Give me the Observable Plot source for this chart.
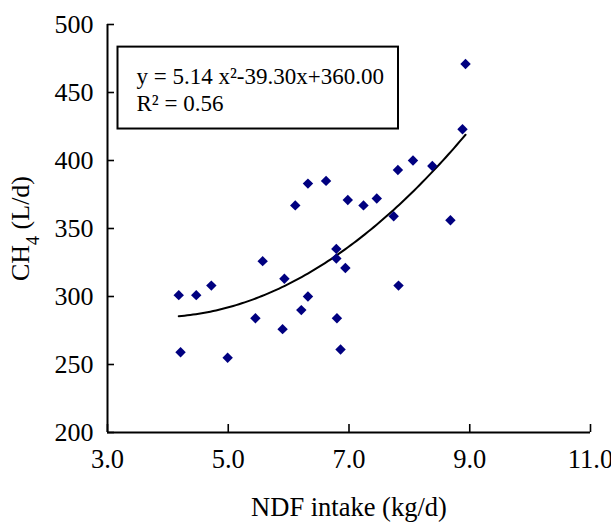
<!DOCTYPE html>
<html>
<head>
<meta charset="utf-8">
<script src="https://cdn.jsdelivr.net/npm/d3@7"></script>
<script src="https://cdn.jsdelivr.net/npm/@observablehq/plot@0.6"></script>
<style>
  html, body { margin: 0; padding: 0; background: #fff; }
  #chart { width: 611px; height: 525px; }
</style>
</head>
<body>
<div id="chart"></div>
<script>
// NDF intake (kg/d)
const ndfIntake = [4.18, 4.21, 4.47, 4.72, 4.99, 5.45, 5.57, 5.90, 5.93, 6.11,
                   6.21, 6.32, 6.32, 6.62, 6.79, 6.79, 6.80, 6.86, 6.94, 6.98,
                   7.24, 7.46, 7.74, 7.81, 7.82, 8.06, 8.38, 8.68, 8.88, 8.93];
// CH4 (L/d)
const ch4 = [301, 259, 301, 308, 255, 284, 326, 276, 313, 367,
             290, 300, 383, 385, 335, 328, 284, 261, 321, 371,
             367, 372, 359, 393, 308, 400, 396, 356, 423, 471];
// trendline coefficients y = a x^2 + b x + c
const trendCoef = [5.14, -39.30, 360.00];
const equationLines = ["y = 5.14 x²-39.30x+360.00", "R² = 0.56"];
const xTicks = [3, 5, 7, 9, 11];
const yTicks = [200, 250, 300, 350, 400, 450, 500];
const xLabel = "NDF intake (kg/d)";
const yLabel = "CH4 (L/d)";

const points = ndfIntake.map((x, i) => ({x, y: ch4[i]}));
const [a, b, c] = trendCoef;
const xMin = d3.min(ndfIntake), xMax = d3.max(ndfIntake);
const trend = d3.range(0, 101).map(i => {
  const x = xMin + (xMax - xMin) * i / 100;
  return {x, y: a * x * x + b * x + c};
});

const W = 611, H = 525, mT = 24, mB = 93, mL = 107, mR = 21;
const innerW = W - mL - mR, innerH = H - mT - mB;

const chart = Plot.plot({
  width: W, height: H,
  marginTop: mT, marginBottom: mB, marginLeft: mL, marginRight: mR,
  style: {fontFamily: "'Liberation Serif', 'Times New Roman', serif", fontSize: "23px", color: "#000", background: "#fff", overflow: "visible"},
  x: {domain: [3, 11]},
  y: {domain: [200, 500]},
  marks: [
    Plot.axisX({ticks: xTicks, tickFormat: d3.format(".1f"), tickSize: 0, tickPadding: 17,
      label: xLabel, labelAnchor: "center", labelArrow: "none", labelOffset: 83, fontSize: 26.5}),
    Plot.axisY({ticks: yTicks, tickSize: 0, tickPadding: 14,
      label: yLabel, labelAnchor: "center", labelArrow: "none", labelOffset: 97, fontSize: 26}),
    Plot.ruleX(xTicks, {x: d => d, insetTop: innerH - 8, stroke: "#000", strokeWidth: 1.6}),
    Plot.ruleY(yTicks, {y: d => d, insetRight: innerW - 7, stroke: "#000", strokeWidth: 1.6}),
    Plot.ruleX([3], {stroke: "#000", strokeWidth: 2}),
    Plot.ruleY([200], {stroke: "#000", strokeWidth: 2}),
    Plot.text([equationLines.join("\n")], {frameAnchor: "top-left", dx: 29, dy: 40,
      textAnchor: "start", lineAnchor: "top", lineHeight: 1.17, fontSize: 23, fill: "#000"}),
    Plot.line(trend, {x: "x", y: "y", stroke: "#000", strokeWidth: 2, curve: "linear"}),
    Plot.dot(points, {x: "x", y: "y", symbol: "diamond2", r: 4.7, fill: "#000080", stroke: "none"})
  ]
});
document.getElementById("chart").appendChild(chart);

// subscript in y label
const yl = d3.select(chart).select('g[aria-label="y-axis label"] text');
if (!yl.empty()) {
  yl.text("");
  yl.append("tspan").text("CH");
  yl.append("tspan").attr("baseline-shift", "sub").attr("font-size", "18px").text("4");
  yl.append("tspan").text(" (L/d)");
}

// box around equation text (measured in SVG pixel space)
const eqNode = d3.select(chart).select('g[aria-label="text"] text').node();
if (eqNode) {
  const svgRect = chart.getBoundingClientRect();
  const r = eqNode.getBoundingClientRect();
  const gNode = eqNode.parentNode;
  d3.select(chart).insert("rect", () => gNode)
    .attr("x", r.left - svgRect.left - 19)
    .attr("y", r.top - svgRect.top - 17)
    .attr("width", r.width + 33)
    .attr("height", r.height + 30)
    .attr("fill", "#fff").attr("stroke", "#000").attr("stroke-width", 2);
}
</script>
</body>
</html>
